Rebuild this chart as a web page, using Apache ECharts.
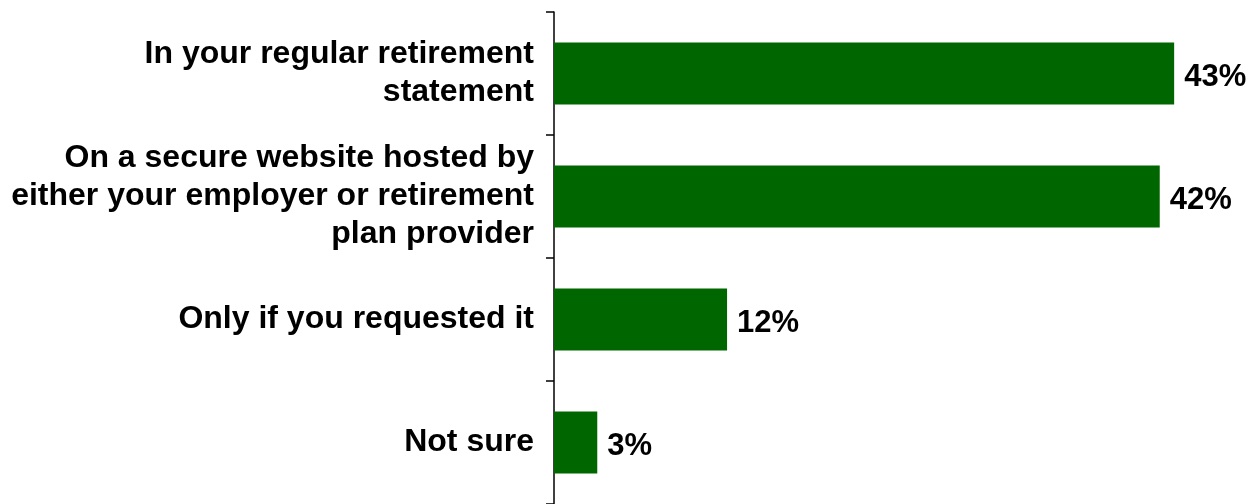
<!DOCTYPE html>
<html>
<head>
<meta charset="utf-8">
<script src="https://cdn.jsdelivr.net/npm/echarts@6/dist/echarts.min.js"></script>
<style>
html,body{margin:0;padding:0;background:#fff;}
#chart{width:1255px;height:504px;}
</style>
</head>
<body>
<div id="chart"></div>
<script>
const categories = [
  'In your regular retirement\nstatement',
  'On a secure website hosted by\neither your employer or retirement\nplan provider',
  'Only if you requested it',
  'Not sure'
];
const values = [43, 42, 12, 3];

const chart = echarts.init(document.getElementById('chart'), null, {renderer: 'canvas'});
chart.setOption({
  animation: false,
  backgroundColor: '#ffffff',
  grid: {left: 554, right: 52, top: 12, bottom: -2, containLabel: false},
  xAxis: {
    type: 'value', min: 0, max: 45, show: false
  },
  yAxis: {
    type: 'category',
    data: categories,
    inverse: true,
    axisLine: {show: true, lineStyle: {color: '#000', width: 1.5}},
    axisTick: {show: true, length: 8, lineStyle: {color: '#000', width: 1.5}},
    axisLabel: {
      margin: 20,
      color: '#000',
      fontFamily: '"Liberation Sans", Arial, sans-serif',
      fontWeight: 'bold',
      fontSize: 32,
      lineHeight: 38,
      align: 'right',
      padding: [6, 0, 0, 0]
    },
    splitLine: {show: false}
  },
  series: [{
    type: 'bar',
    data: values,
    barWidth: 62,
    itemStyle: {color: '#006600'},
    label: {
      show: true,
      position: 'right',
      distance: 10,
      offset: [0, 4],
      formatter: '{c}%',
      color: '#000',
      fontFamily: '"Liberation Sans", Arial, sans-serif',
      fontWeight: 'bold',
      fontSize: 31
    }
  }]
});
</script>
</body>
</html>
